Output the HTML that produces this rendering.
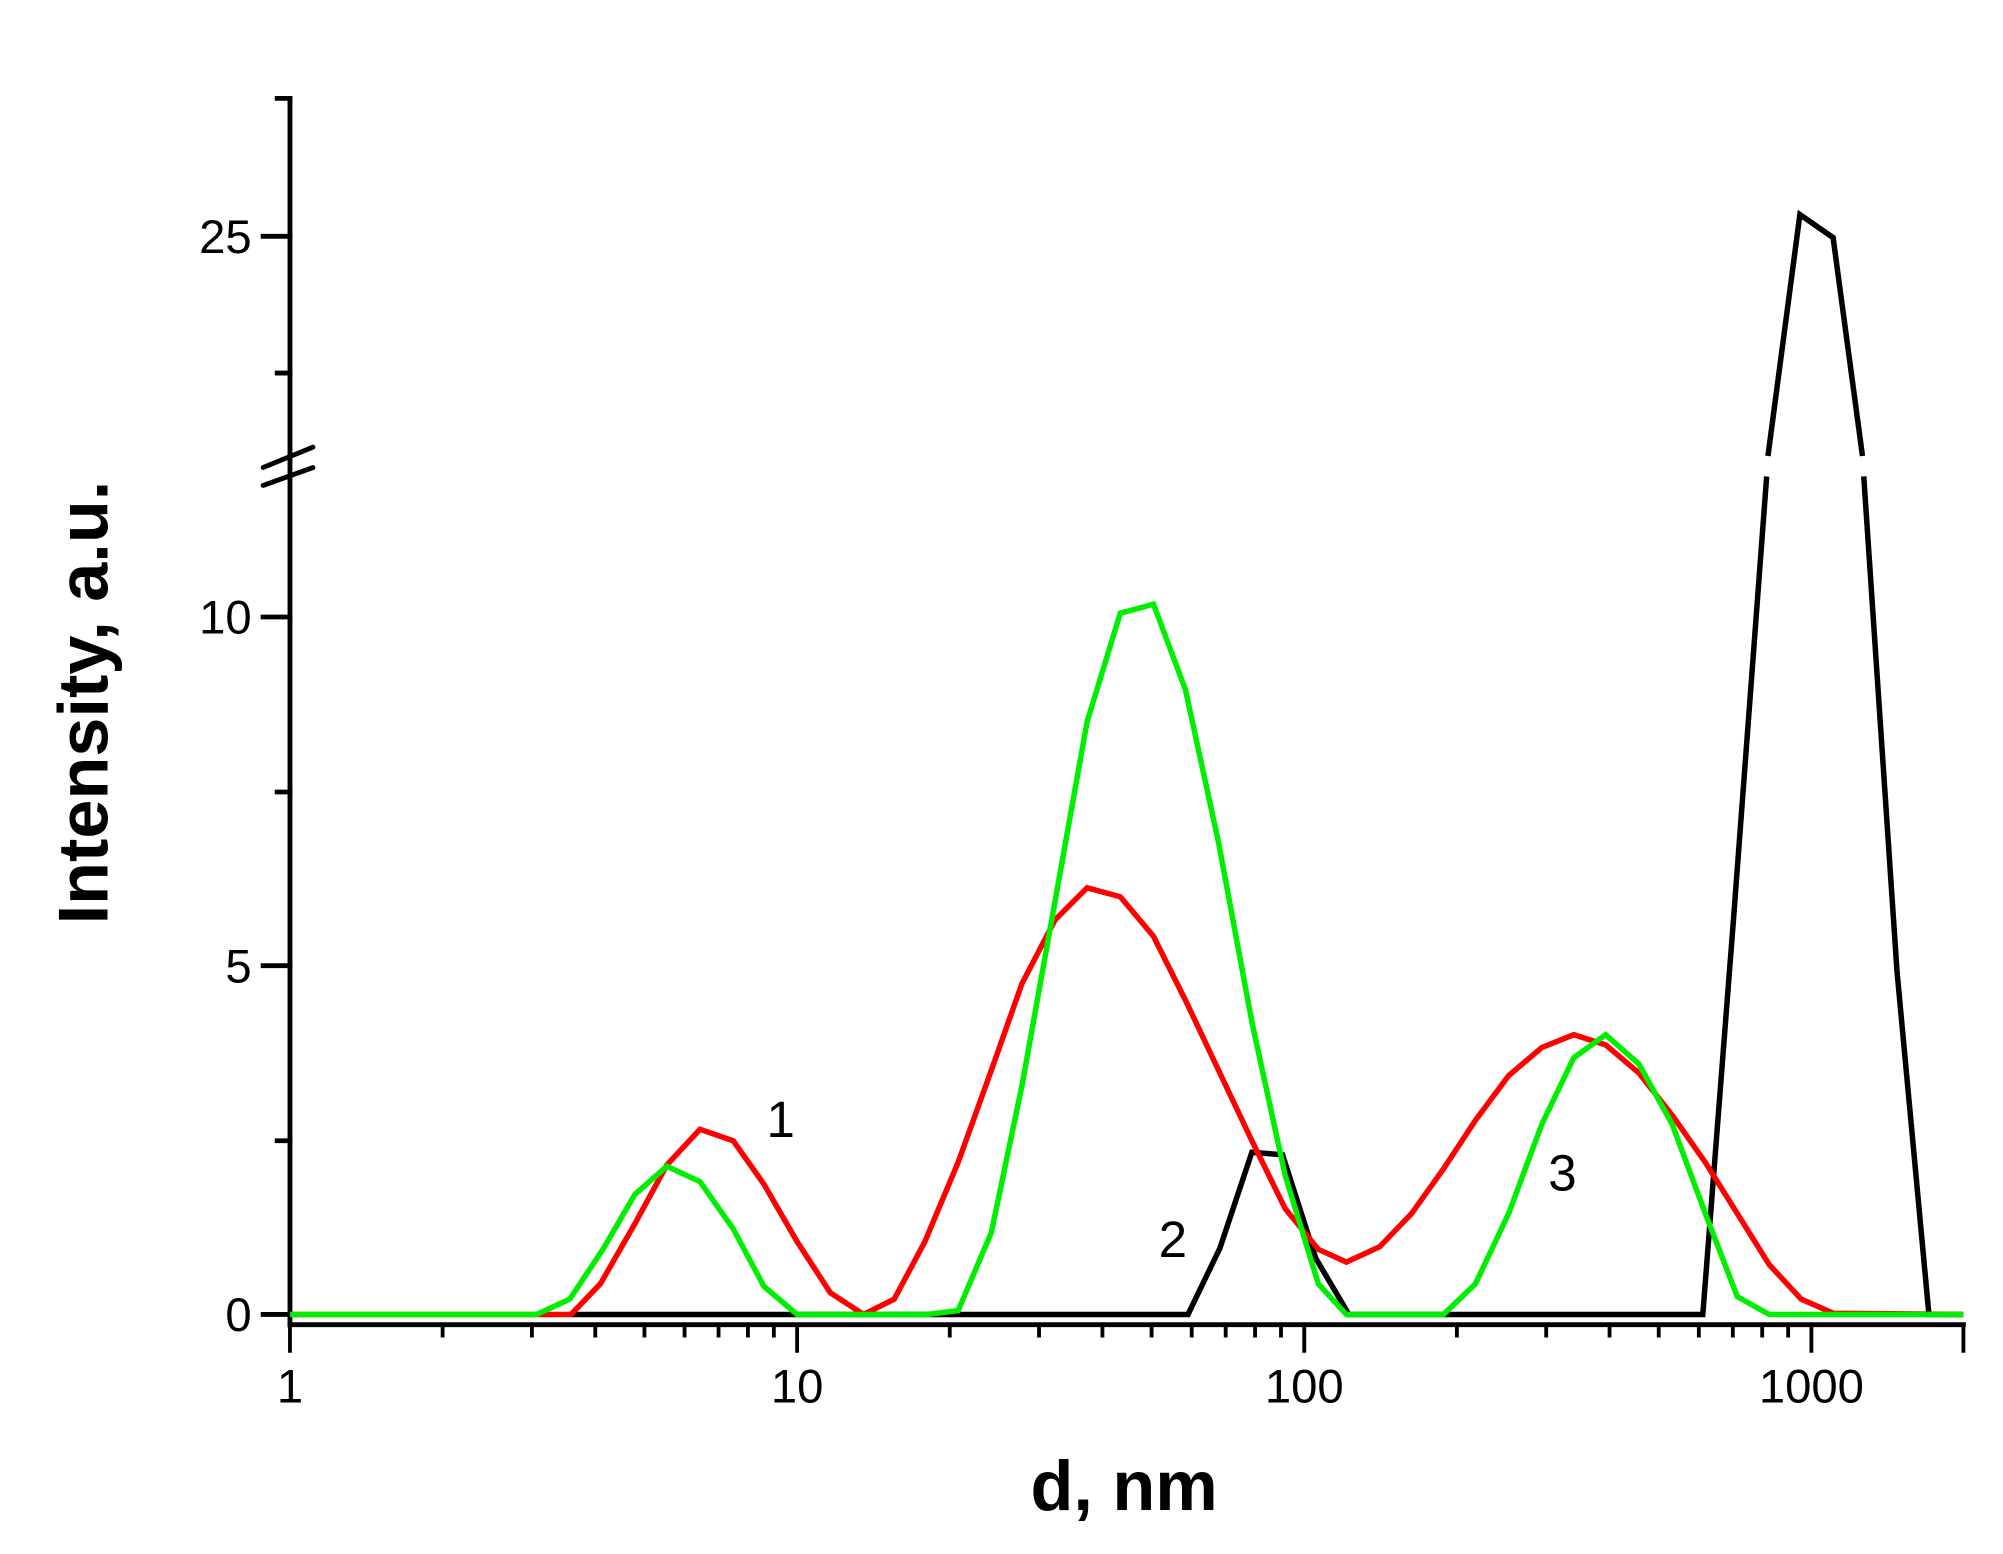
<!DOCTYPE html>
<html><head><meta charset="utf-8"><style>html,body{margin:0;padding:0;background:#fff}svg{display:block}</style></head>
<body>
<svg width="2003" height="1554" viewBox="0 0 1568 1216.5" xmlns="http://www.w3.org/2000/svg" font-family="Liberation Sans, sans-serif">
<rect width="1568" height="1216.5" fill="#fff"/>
<g stroke="#000" stroke-width="3.8" fill="none" stroke-linecap="square">
<line x1="227" y1="77" x2="227" y2="1037"/>
<line x1="227" y1="1037" x2="1537" y2="1037"/>
<line x1="217" y1="77" x2="227" y2="77"/>
<line x1="206" y1="185" x2="227" y2="185"/>
<line x1="217" y1="292" x2="227" y2="292"/>
<line x1="206" y1="483" x2="227" y2="483"/>
<line x1="217" y1="620" x2="227" y2="620"/>
<line x1="206" y1="756" x2="227" y2="756"/>
<line x1="217" y1="893" x2="227" y2="893"/>
<line x1="206" y1="1029" x2="227" y2="1029"/>
<line x1="206" y1="366" x2="245" y2="350" stroke-linecap="round"/>
<line x1="206" y1="380" x2="245" y2="366" stroke-linecap="round"/>
</g>
<g stroke="#000" stroke-width="3">
<path d="M227 1037v22M624 1037v22M1021 1037v22M1418 1037v22M1537 1037v22
M346.5 1037v10M416.4 1037v10M466 1037v10M504.5 1037v10M535.9 1037v10M562.5 1037v10M585.5 1037v10M605.8 1037v10
M743.5 1037v10M813.4 1037v10M863 1037v10M901.5 1037v10M932.9 1037v10M959.5 1037v10M982.5 1037v10M1002.8 1037v10
M1140.5 1037v10M1210.4 1037v10M1260 1037v10M1298.5 1037v10M1329.9 1037v10M1356.5 1037v10M1379.5 1037v10M1399.8 1037v10"/>
</g>
<g font-size="37" text-anchor="middle" fill="#000">
<text x="227" y="1098">1</text>
<text x="624" y="1098">10</text>
<text x="1021" y="1098">100</text>
<text x="1418" y="1098">1000</text>
</g>
<g font-size="37" text-anchor="end" fill="#000">
<text x="197" y="198">25</text>
<text x="197" y="496">10</text>
<text x="197" y="769">5</text>
<text x="197" y="1042">0</text>
</g>
<text x="880" y="1182" font-size="55" font-weight="bold" text-anchor="middle">d, nm</text>
<text transform="translate(84,550) rotate(-90)" font-size="55" font-weight="bold" text-anchor="middle">Intensity, a.u.</text>
<g font-size="40" fill="#000">
<text x="600" y="890">1</text>
<text x="907" y="984">2</text>
<text x="1212" y="932">3</text>
</g>
<g fill="none" stroke-width="4.3" stroke-linejoin="miter">
<path stroke="#000" d="M447 1029L930 1029L955 977L980 902L1004 904L1030 985L1056 1029L1333 1029L1357 720L1383 373"/>
<path stroke="#000" d="M1384 357L1409 168L1435 186L1458 357"/>
<path stroke="#000" d="M1459 373L1485 760L1510 1029L1537 1029"/>
<path stroke="#ff0000" d="M227 1029L420 1029L447 1029L470 1005L497 958L522 912L548 884L574 893L598 927L624 972L650 1012L676 1029L700 1017L724 972L750 910L776 838L800 770L826 720L851 695L877 702L903 733L928 783L954 838L980 893L1006 946L1032 978L1054 988L1080 976L1105 950L1130 915L1155 877L1181 842L1207 820L1232 810L1257 818L1283 840L1309 873L1335 910L1360 950L1385 990L1410 1017L1435 1028L1537 1029"/>
<path stroke="#00ee00" d="M227 1029L420 1029L446 1017L472 978L497 935L522 913L548 925L574 962L598 1007L624 1029L726 1029L750 1026L776 965L800 850L826 705L851 565L877 480L903 473L928 540L954 660L980 800L1006 920L1032 1005L1054 1029L1130 1029L1155 1005L1181 950L1207 880L1232 828L1257 810L1283 833L1309 880L1335 950L1360 1015L1385 1029L1537 1029"/>
</g>
</svg>
</body></html>
